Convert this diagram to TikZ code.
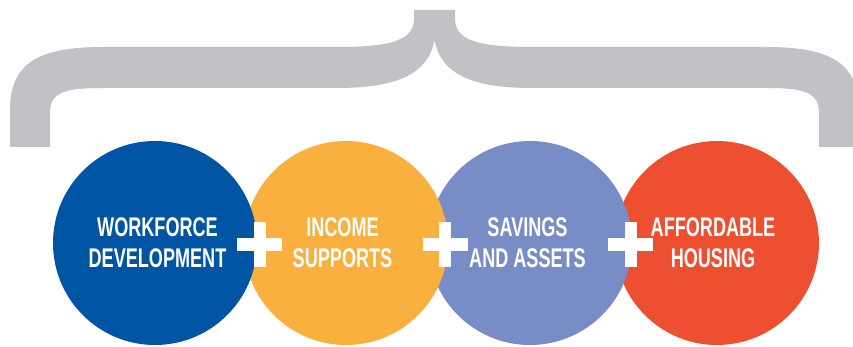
\documentclass[tikz,border=0pt]{standalone}
\usepackage{fontspec}
\newfontfamily\condfont[FakeStretch=0.67]{Liberation Sans}
\definecolor{bracegray}{RGB}{193,194,198}
\definecolor{cblue}{RGB}{0,84,164}
\definecolor{corange}{RGB}{249,176,62}
\definecolor{cpurple}{RGB}{120,140,198}
\definecolor{cred}{RGB}{238,79,48}
\tikzset{
  disc/.style={circle, minimum size=204pt, inner sep=0pt, draw=none, fill=#1},
  label/.style={text=white, align=center, inner sep=0pt, font=\condfont\bfseries\fontsize{27}{31}\selectfont},
  plusbar/.style={fill=white, draw=none}
}
\begin{document}
\begin{tikzpicture}[x=1pt,y=-1pt]
\useasboundingbox (0,0) rectangle (853,347);
\clip (0,0) rectangle (853,347);
% brace
\fill[bracegray] (10,147) -- (10,110) .. controls (10,62) and (40,47) .. (103,47)
  -- (337,47) .. controls (398,47) and (414,38) .. (414,18) -- (414,10) -- (455,10) -- (455,18)
  .. controls (455,38) and (471,47) .. (532,47) -- (766,47)
  .. controls (829,47) and (859,62) .. (859,110) -- (859,147) -- (819,147) -- (819,113)
  .. controls (819,92) and (804,88) .. (766,88) -- (532,88)
  .. controls (474,88) and (441,75) .. (434.5,40)
  .. controls (428,75) and (395,88) .. (337,88) -- (103,88)
  .. controls (65,88) and (50,92) .. (50,113) -- (50,147) -- cycle;
% circles (right to left so the left one lies on top)
\node[disc=cred] (red) at (717,243) {};
\node[disc=cpurple] (purple) at (530,243) {};
\node[disc=corange] (orange) at (346,243) {};
\node[disc=cblue] (blue) at (155,243) {};
% plus signs
\foreach \px in {259.5,445,630.5}{
  \fill[plusbar] (\px-22.5,238.5) rectangle (\px+22.5,250.5);
  \fill[plusbar] (\px-6,222) rectangle (\px+6,267);
}
% labels
\node[label] (t1) at (157.5,242.5) {WORKFORCE\\DEVELOPMENT};
\node[label] (t2) at (342.5,242.5) {INCOME\\SUPPORTS};
\node[label] (t3) at (527.5,242.5) {SAVINGS\\AND ASSETS};
\node[label] (t4) at (713,242.5) {AFFORDABLE\\HOUSING};
\end{tikzpicture}
\end{document}
